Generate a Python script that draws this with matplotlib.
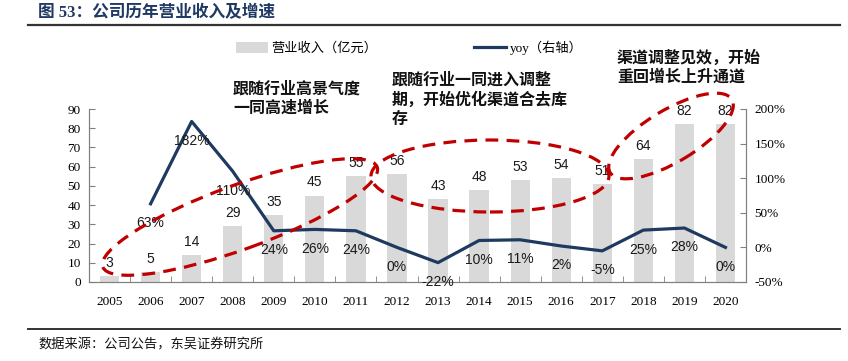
import numpy as np
import matplotlib
matplotlib.use('Agg')
import matplotlib.pyplot as plt
from matplotlib.patches import Ellipse, Patch
from matplotlib.lines import Line2D
from matplotlib.transforms import Affine2D

CJK = ['Liberation Serif', 'Noto Sans CJK SC', 'DejaVu Sans']
plt.rcParams['font.family'] = CJK

years = [str(y) for y in range(2005, 2021)]
revenue = [3, 5, 14, 29, 35, 45, 55, 56, 43, 48, 53, 54, 51, 64, 82, 82]
yoy = [0.63, 1.82, 1.10, 0.24, 0.26, 0.24, 0.00, -0.22, 0.10, 0.11, 0.02, -0.05, 0.25, 0.28, 0.00]
yoy_labels = ['63%', '182%', '110%', '24%', '26%', '24%', '0%', '-22%', '10%', '11%', '2%', '-5%', '25%', '28%', '0%']

W, H = 848, 361
BAR_C = '#d9d9d9'
LINE_C = '#1f3a60'
RED = '#c00000'

fig = plt.figure(figsize=(W / 100, H / 100), dpi=100)
ax = fig.add_axes([89 / W, 1 - 282 / H, (746 - 89) / W, (282 - 109) / H])
ax2 = ax.twinx()

x = np.arange(len(years))
ax.bar(x, revenue, width=0.47, color=BAR_C, zorder=1)
for xi, v in zip(x, revenue):
    ax.annotate(str(v), (xi, v), xytext=(0, 9.5), textcoords='offset points',
                ha='center', va='center', fontsize=10, family='Liberation Sans', color='#1a1a1a')

# yoy starts in 2006
xl = x[1:]
ax2.plot(xl, yoy, color=LINE_C, lw=2.3, zorder=3)
for xi, v, s in zip(xl, yoy, yoy_labels):
    ax2.annotate(s, (xi, v), xytext=(0, -14), textcoords='offset points',
                 ha='center', va='center', fontsize=10, family='Liberation Sans', color='#1a1a1a')

ax.set_xlim(-0.5, len(years) - 0.5)
ax.set_ylim(0, 90)
ax.set_yticks(range(0, 91, 10))
rt = np.arange(-0.5, 2.01, 0.5)
ax2.set_ylim(-0.5, 2.0)
ax2.set_yticks(rt)
ax2.set_yticklabels([f'{int(round(t * 100))}%' for t in rt])

ax.set_xticks(x)
ax.set_xticklabels(years)
ax.set_xticks(np.arange(-0.5, len(years), 1), minor=True)
ax.tick_params(axis='x', which='major', length=0, pad=10, labelsize=9.5)
ax.tick_params(axis='x', which='minor', length=4, direction='in', color='#808080')
ax.tick_params(axis='y', length=4, direction='in', labelsize=9.5, pad=6, color='#808080')
ax2.tick_params(axis='y', length=4, direction='in', labelsize=9.5, pad=6, color='#808080')
for a in (ax, ax2):
    a.spines['top'].set_visible(False)
    for s in ('left', 'right', 'bottom'):
        a.spines[s].set_color('#808080')

# red dashed ellipses, given in image pixels (y from top)
pix = Affine2D().scale(1 / W, 1 / H) + fig.transFigure
for cx, cy, w, h, ang in [(240, 217, 292, 64, 20), (490, 176, 238, 72, 0), (671, 136, 142, 52, 31)]:
    e = Ellipse((cx, H - cy), w, h, angle=ang, fill=False, ec=RED, lw=2.3,
                ls=(0, (4, 2.6)), zorder=10)
    e.set_transform(pix)
    fig.add_artist(e)

# legend
handles = [Patch(facecolor=BAR_C, edgecolor='none'), Line2D([], [], color=LINE_C, lw=2.3)]
fig.legend(handles, ['营业收入（亿元）', 'yoy（右轴）'], loc='center left',
           bbox_to_anchor=(236 / W, 1 - 48 / H), ncol=2, frameon=False, borderpad=0,
           borderaxespad=0, handlelength=2.4, handleheight=0.9, handletextpad=0.3,
           columnspacing=7.3, prop={'family': CJK, 'size': 9.5})

# annotation texts
notes = [(233, 92, '跟随行业高景气度\n一同高速增长'),
         (392, 83, '跟随行业一同进入调整\n期，开始优化渠道合去库\n存'),
         (617, 60, '渠道调整见效，开始\n重回增长上升通道')]
for nx, ny, t in notes:
    fig.text(nx / W, 1 - (ny - 10) / H, t, ha='left', va='top', fontsize=11.5,
             fontweight='bold', linespacing=1.25, color='#111111')

# title, rules and source
fig.text(38 / W, 1 - 13 / H, '图 53：公司历年营业收入及增速', ha='left', va='center',
         fontsize=12, fontweight='bold', color='#1f3864')
fig.add_artist(Line2D([28 / W, 840 / W], [1 - 25 / H] * 2, color='#333333', lw=1.6))
fig.add_artist(Line2D([28 / W, 840 / W], [1 - 329 / H] * 2, color='#333333', lw=1.4))
fig.text(38 / W, 1 - 345 / H, '数据来源：公司公告，东吴证券研究所', ha='left', va='center',
         fontsize=9.5, color='#111111')

fig.savefig('out.png', dpi=100)
